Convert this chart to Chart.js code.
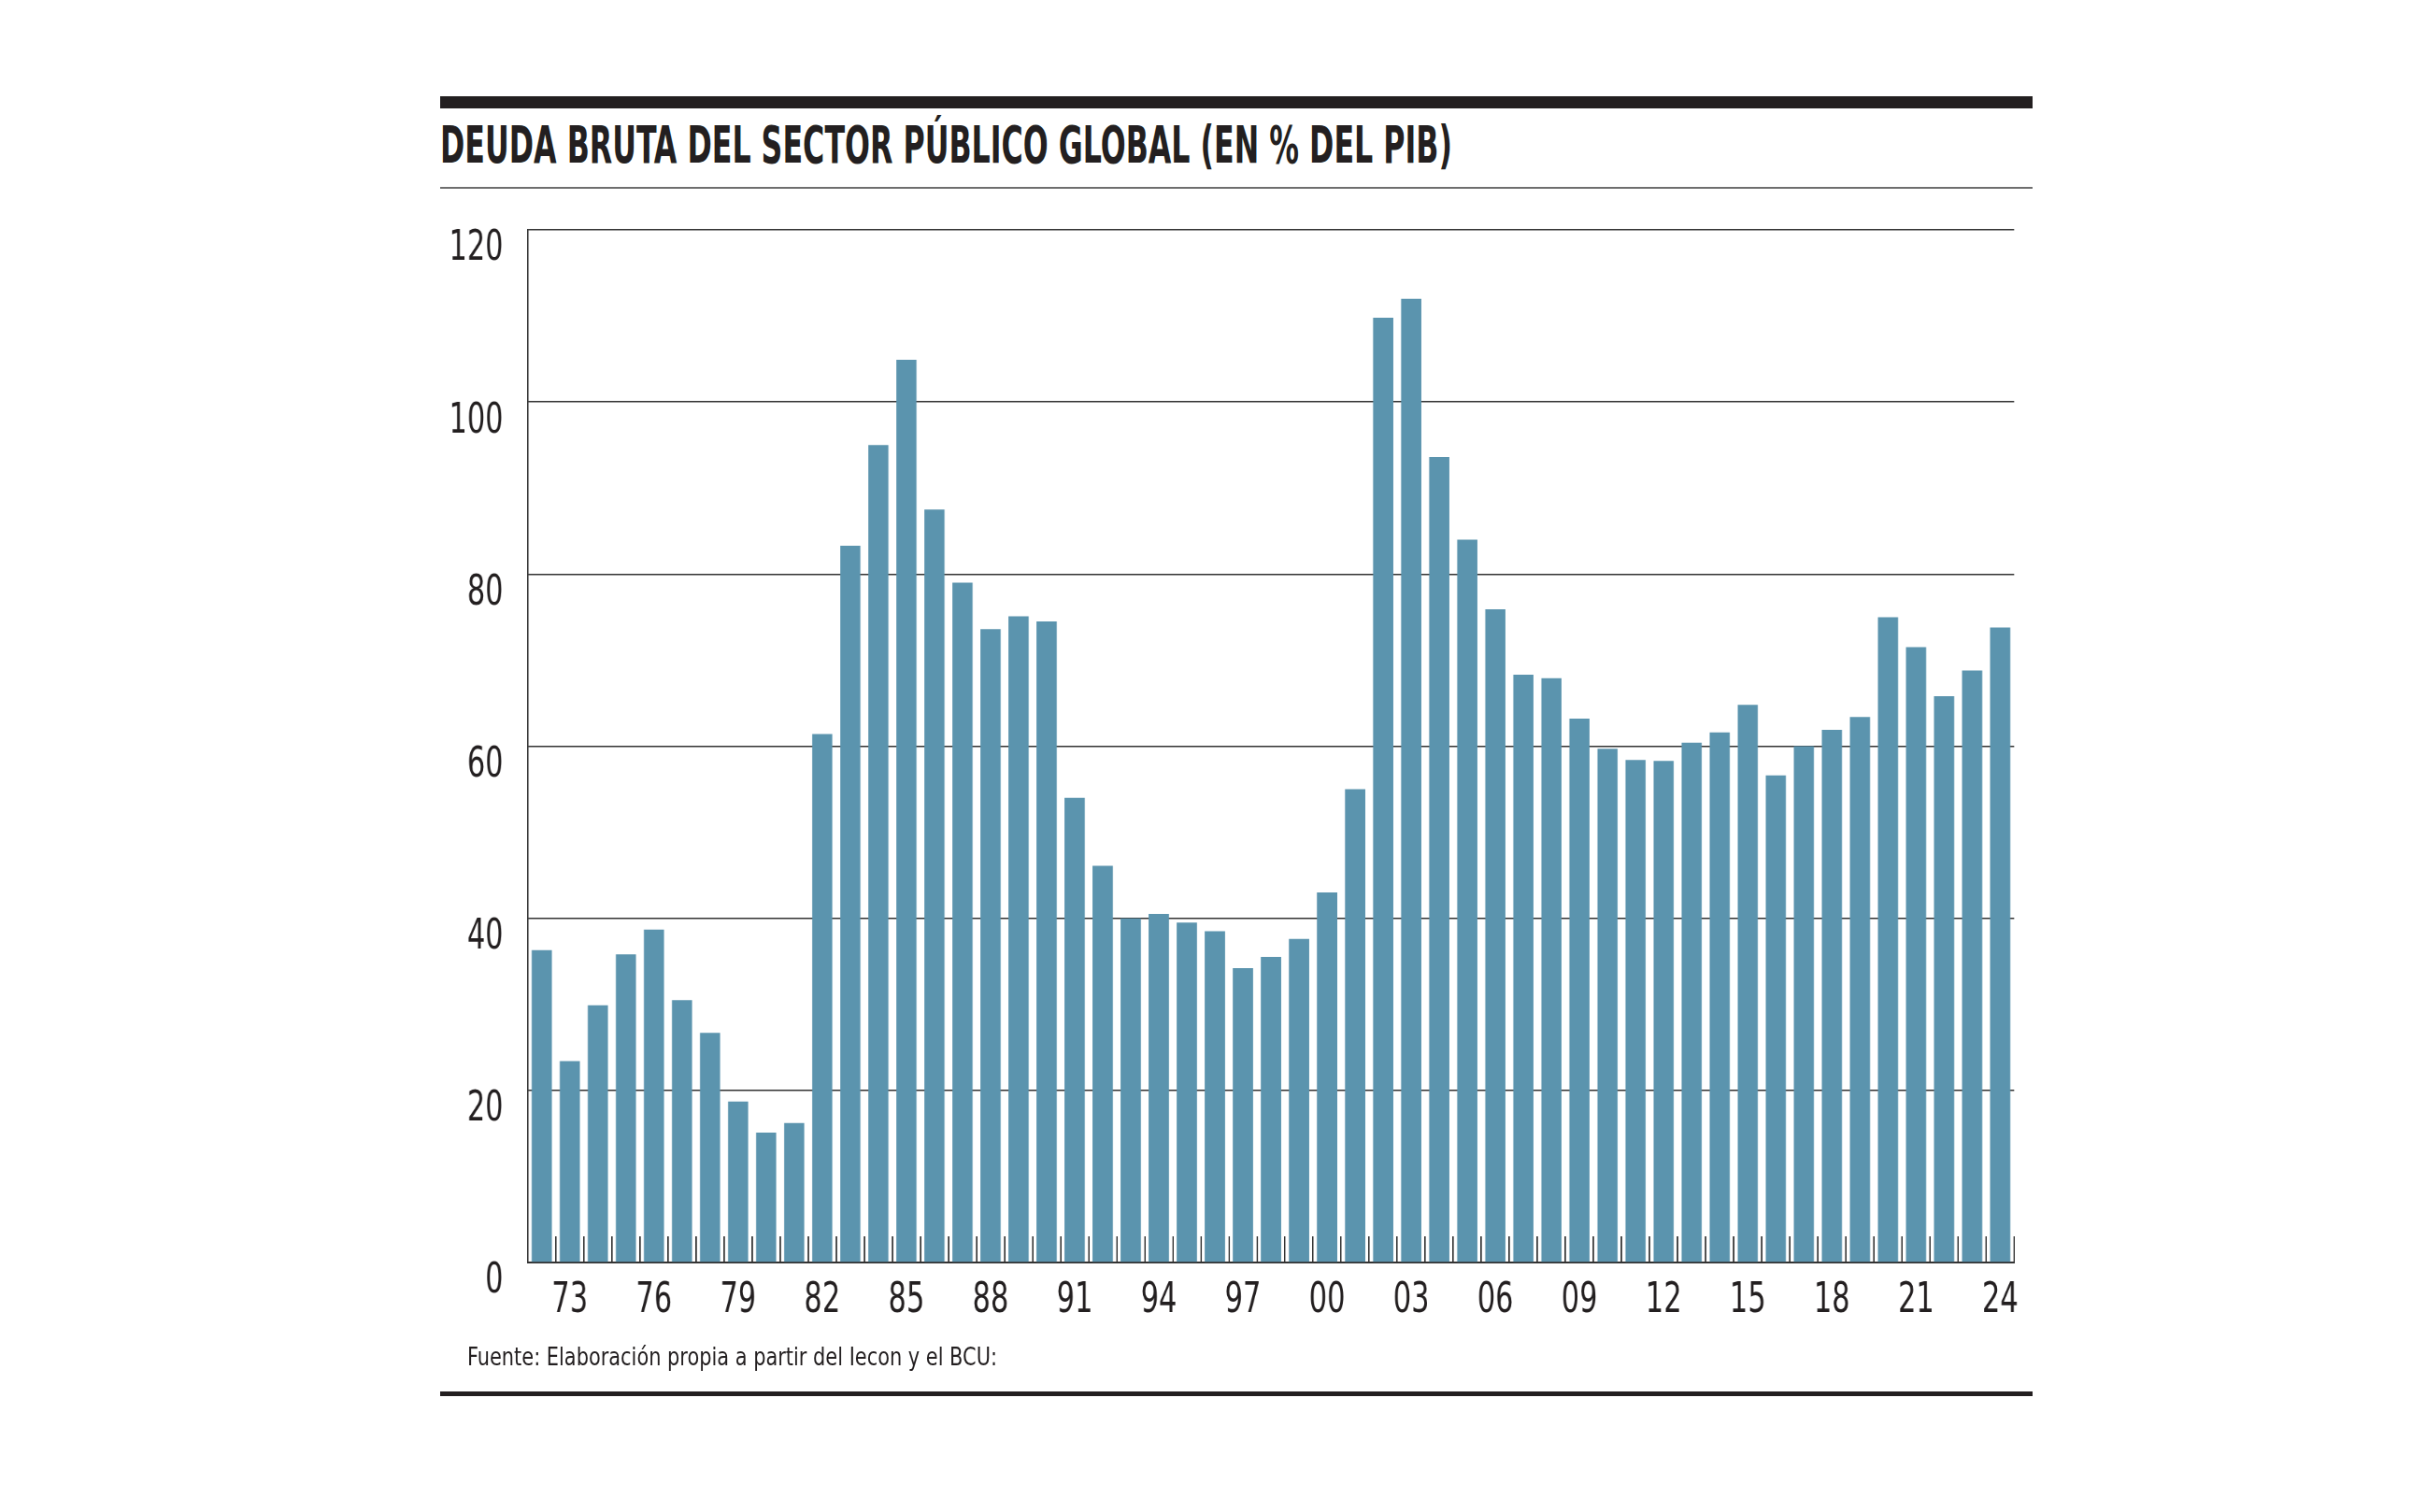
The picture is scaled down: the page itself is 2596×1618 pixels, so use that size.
<!DOCTYPE html>
<html>
<head>
<meta charset="utf-8">
<script src="https://cdn.jsdelivr.net/npm/chart.js@4.4.1/dist/chart.umd.min.js"></script>
<style>
  body { margin: 0; background: #fff; width: 2596px; height: 1618px; position: relative; overflow: hidden;
         font-family: 'Liberation Sans Narrow', 'DejaVu Sans Condensed', sans-serif; color: #231f20; }
  .rule { position: absolute; left: 471px; width: 1704px; background: #231f20; }
  #title { position: absolute; left: 471px; top: 127px; font-size: 56px; font-weight: bold; line-height: 1;
           white-space: nowrap; transform-origin: 0 0; }
  #source { position: absolute; left: 500px; top: 1439px; font-size: 26px; line-height: 1;
            white-space: nowrap; transform-origin: 0 0; }
  /* el canvas se dibuja más ancho y se comprime para imitar la tipografía condensada */
  #wrap { position: absolute; left: 440px; top: 200px; width: 2286px; height: 1240px;
          transform: scaleX(0.7699); transform-origin: 0 0; }
</style>
</head>
<body>
<div class="rule" style="top:103px;height:13px"></div>
<div id="title">DEUDA BRUTA DEL SECTOR PÚBLICO GLOBAL (EN % DEL PIB)</div>
<div class="rule" style="top:200px;height:2px;background:#6e6e6e"></div>
<div id="wrap"><canvas id="chart" width="2286" height="1240"></canvas></div>
<div id="source">Fuente: Elaboración propia a partir del Iecon y el BCU:</div>
<div class="rule" style="top:1489px;height:5px"></div>

<script>
  // años (dos cifras), 1972 - 2024
  var years = ["72","73","74","75","76","77","78","79","80","81",
               "82","83","84","85","86","87","88","89","90","91",
               "92","93","94","95","96","97","98","99","00","01",
               "02","03","04","05","06","07","08","09","10","11",
               "12","13","14","15","16","17","18","19","20","21",
               "22","23","24"];

  // deuda bruta, % del PIB
  var deuda = [36.3, 23.4, 29.9, 35.8, 38.7, 30.5, 26.7, 18.7, 15.1, 16.2,
               61.4, 83.3, 95.0, 104.9, 87.5, 79.0, 73.6, 75.1, 74.5, 54.0,
               46.1, 40.0, 40.5, 39.5, 38.5, 34.2, 35.5, 37.6, 43.0, 55.0,
               109.8, 112.0, 93.6, 84.0, 75.9, 68.3, 67.9, 63.2, 59.7, 58.4,
               58.3, 60.4, 61.6, 64.8, 56.6, 60.0, 61.9, 63.4, 75.0, 71.5,
               65.8, 68.8, 73.8];

  var tickLabels = ["73","76","79","82","85","88","91","94","97","00","03","06","09","12","15","18","21","24"];
  var yTicks = [0, 20, 40, 60, 80, 100, 120];

  var fontFamily = "'Liberation Sans Narrow', 'DejaVu Sans Condensed', sans-serif";

  function fitText(id, target) {
    var el = document.getElementById(id);
    var w = el.getBoundingClientRect().width;
    el.style.transform = "scaleX(" + (target / w) + ")";
  }

  function drawChart() {
    var ctx = document.getElementById("chart").getContext("2d");
    var chart = new Chart(ctx, {
      type: "bar",
      data: {
        labels: years,
        datasets: [{
          data: deuda,
          backgroundColor: "#5b94ae",
          borderWidth: 0,
          barPercentage: 0.72,
          categoryPercentage: 1
        }]
      },
      options: {
        responsive: false,
        animation: false,
        devicePixelRatio: 1,
        layout: { padding: { top: 46, right: 58, left: 0, bottom: 0 } },
        plugins: { legend: { display: false }, tooltip: { enabled: false } },
        scales: {
          x: {
            grid: {
              drawOnChartArea: false,
              drawTicks: true,
              tickLength: -28, // marcas hacia adentro
              color: "#333",
              lineWidth: 2
            },
            border: { color: "#333", width: 2 },
            ticks: {
              autoSkip: false,
              maxRotation: 0,
              padding: 43,
              color: "#231f20",
              font: { family: fontFamily, size: 44 },
              callback: function(v, i) {
                return tickLabels.indexOf(years[i]) >= 0 ? years[i] : "";
              }
            },
            afterFit: function(s) { s.height = 89; }
          },
          y: {
            min: 0,
            max: 120,
            afterBuildTicks: function(s) {
              s.ticks = yTicks.map(function(v) { return { value: v }; });
            },
            grid: { color: "#333", lineWidth: 1.6, drawTicks: true, tickLength: 34, tickColor: "rgba(0,0,0,0)" },
            border: { color: "#333", width: 2.1 },
            ticks: {
              padding: 0,
              labelOffset: 21,
              color: "#231f20",
              font: { family: fontFamily, size: 44 }
            },
            afterFit: function(s) { s.width = 162; }
          }
        }
      }
    });
  }

  fitText("title", 1083);
  fitText("source", 567);
  drawChart();
</script>
</body>
</html>
